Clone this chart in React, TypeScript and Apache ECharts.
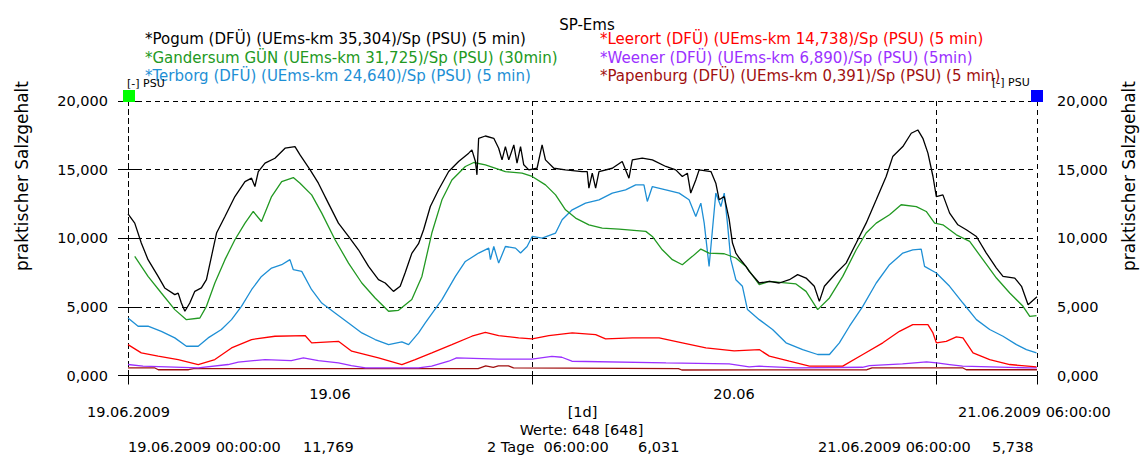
import React, { useEffect, useRef } from "react";
import * as echarts from "echarts";

// Time axis in hours since 19.06.2009 00:00, values in PSU
const seriesNames = [
  "*Pogum (DFÜ) (UEms-km 35,304)/Sp (PSU) (5 min)",
  "*Gandersum GÜN (UEms-km 31,725)/Sp (PSU) (30min)",
  "*Terborg (DFÜ) (UEms-km 24,640)/Sp (PSU) (5 min)",
  "*Leerort (DFÜ) (UEms-km 14,738)/Sp (PSU) (5 min)",
  "*Weener (DFÜ) (UEms-km 6,890)/Sp (PSU) (5min)",
  "*Papenburg (DFÜ) (UEms-km 0,391)/Sp (PSU) (5 min)",
];
const seriesColors = ["#000000", "#229922", "#1e8fd5", "#ff0000", "#9b30ff", "#a01010"];

const pogum: [number, number][] = [
  [0, 11.769], [0.4, 11.1], [0.79, 9.65], [1.19, 8.44], [1.79, 7.22], [2.18, 6.38], [2.78, 5.89], [2.98, 6.0],
  [3.17, 5.28], [3.38, 4.68], [3.67, 5.28], [3.97, 6.13], [4.36, 6.38], [4.66, 6.98], [4.96, 8.68], [5.26, 10.38],
  [5.76, 11.59], [6.35, 13.04], [6.95, 14.13], [7.34, 14.38], [7.54, 13.77], [7.74, 14.86], [8.14, 15.47],
  [8.73, 15.83], [9.33, 16.56], [9.92, 16.68], [10.22, 16.07], [10.82, 14.98], [11.31, 14.01], [11.9, 12.56],
  [12.5, 11.1], [13.1, 10.13], [13.69, 9.16], [14.29, 7.95], [14.88, 6.98], [15.28, 6.74], [15.77, 6.13],
  [16.17, 6.5], [16.47, 7.5], [16.86, 8.9], [17.26, 9.6], [17.56, 10.62], [17.96, 12.31], [18.45, 13.53],
  [19.05, 14.86], [19.64, 15.59], [20.24, 16.2], [20.43, 16.44], [20.64, 15.59], [20.73, 14.62], [20.83, 17.28],
  [21.23, 17.45], [21.73, 17.28], [22.02, 16.56], [22.22, 15.71], [22.42, 16.68], [22.62, 15.71], [22.92, 16.8],
  [23.11, 15.47], [23.32, 16.68], [23.51, 15.35], [23.81, 14.98], [24.3, 15.1], [24.6, 16.8], [24.8, 15.71],
  [25.3, 15.1], [25.99, 14.98], [26.98, 14.86], [27.28, 14.86], [27.38, 13.65], [27.58, 14.74], [27.78, 13.65],
  [27.98, 14.86], [28.77, 15.1], [29.36, 15.59], [29.76, 14.38], [29.96, 15.71], [30.55, 15.83], [31.15, 15.71],
  [31.95, 15.23], [32.54, 14.98], [32.93, 14.5], [33.23, 14.74], [33.43, 13.29], [33.73, 14.25], [33.93, 14.98],
  [34.63, 14.86], [34.92, 14.01], [35.12, 12.8], [35.42, 13.04], [35.71, 11.4], [35.91, 9.65], [36.11, 8.92],
  [36.31, 8.56], [36.71, 7.95], [36.9, 7.59], [37.5, 6.74], [38.1, 6.86], [38.69, 6.74], [39.29, 6.98],
  [39.78, 7.35], [40.28, 7.1], [40.77, 6.5], [41.07, 5.4], [41.37, 6.5], [42.07, 7.47], [42.66, 8.19],
  [43.26, 9.65], [43.85, 11.1], [44.45, 12.8], [45.04, 14.5], [45.43, 15.95], [46.03, 16.68], [46.53, 17.65],
  [46.92, 17.89], [47.22, 17.28], [47.52, 16.2], [47.82, 14.5], [48.02, 13.04], [48.41, 13.16], [48.81, 11.83],
  [49.3, 10.98], [49.8, 10.62], [50.4, 10.13], [50.99, 8.92], [51.59, 7.83], [51.98, 7.22], [52.68, 7.1],
  [53.08, 6.5], [53.47, 5.16], [54, 5.738],
];

const gandersum: [number, number][] = [
  [0.4, 8.68], [1.19, 7.22], [1.98, 6.01], [2.78, 4.8], [3.47, 4.07], [4.27, 4.19], [4.66, 5.04], [5.16, 6.74],
  [5.76, 8.44], [6.35, 9.89], [6.95, 11.1], [7.44, 11.95], [7.93, 11.22], [8.53, 13.04], [9.13, 14.13],
  [9.82, 14.42], [10.22, 14.01], [10.91, 13.16], [11.51, 11.83], [12.3, 9.89], [13.1, 8.19], [13.89, 6.74],
  [14.68, 5.65], [15.48, 4.68], [16.07, 4.75], [16.86, 5.53], [17.46, 7.22], [18.05, 10.38], [18.65, 12.8],
  [19.24, 14.25], [20.04, 15.23], [20.54, 15.52], [21.23, 15.35], [22.42, 14.86], [23.41, 14.74], [24.01, 14.5],
  [24.8, 13.89], [25.4, 13.16], [25.99, 12.07], [26.59, 11.47], [27.38, 10.98], [28.17, 10.74], [29.17, 10.67],
  [30.76, 10.5], [31.15, 10.13], [31.74, 9.16], [32.34, 8.44], [32.93, 8.07], [33.53, 8.68], [34.03, 9.21],
  [34.52, 8.92], [35.42, 8.87], [36.11, 8.56], [36.71, 7.95], [37.5, 6.62], [38.1, 6.86], [39.68, 6.67],
  [40.28, 6.13], [40.97, 4.8], [41.67, 5.65], [42.46, 7.22], [43.26, 9.16], [43.85, 10.38], [44.45, 11.1],
  [45.24, 11.71], [45.93, 12.44], [46.83, 12.31], [47.42, 11.95], [47.92, 11.1], [48.41, 10.98], [49.21, 10.25],
  [50.0, 9.77], [50.79, 8.44], [51.59, 7.1], [52.38, 6.01], [53.17, 5.04], [53.57, 4.31], [53.97, 4.36],
];

const terborg: [number, number][] = [
  [0, 4.19], [0.6, 3.59], [1.19, 3.59], [1.98, 3.22], [2.78, 2.74], [3.47, 2.13], [4.17, 2.13], [4.76, 2.74],
  [5.55, 3.35], [6.15, 4.07], [6.74, 5.04], [7.34, 6.25], [7.93, 7.22], [8.53, 7.83], [9.13, 8.07], [9.62, 8.44],
  [9.82, 7.71], [10.32, 7.59], [10.91, 6.25], [11.51, 5.28], [12.3, 4.56], [13.1, 3.83], [13.89, 3.1],
  [14.68, 2.62], [15.48, 2.25], [16.27, 2.45], [16.67, 2.25], [17.26, 3.1], [17.66, 3.83], [18.65, 5.53],
  [19.45, 7.22], [20.04, 8.31], [20.83, 8.92], [21.43, 9.28], [21.53, 8.44], [21.73, 9.4], [22.02, 8.19],
  [22.42, 9.4], [23.02, 9.28], [23.32, 8.92], [23.71, 9.4], [24.01, 10.13], [24.6, 10.01], [25.4, 10.38],
  [25.79, 11.35], [26.39, 12.07], [27.18, 12.56], [27.98, 12.8], [28.77, 13.29], [29.56, 13.53], [30.16, 13.89],
  [30.65, 13.89], [30.85, 12.68], [31.15, 13.77], [31.95, 13.53], [32.74, 13.29], [33.33, 12.8], [33.73, 11.59],
  [34.03, 12.56], [34.23, 11.1], [34.52, 7.95], [34.72, 10.62], [34.92, 13.29], [35.22, 12.31], [35.42, 13.29],
  [35.61, 11.1], [35.81, 8.44], [36.11, 6.98], [36.5, 6.5], [36.8, 4.8], [37.5, 4.07], [38.29, 3.35],
  [39.09, 2.38], [40.08, 1.89], [40.97, 1.53], [41.67, 1.53], [42.26, 2.38], [42.86, 3.59], [43.65, 5.04],
  [44.45, 6.74], [45.24, 8.07], [46.03, 8.92], [46.62, 9.16], [47.12, 9.21], [47.32, 7.95], [48.02, 7.47],
  [48.81, 6.5], [49.6, 5.28], [50.4, 4.07], [51.19, 3.35], [51.98, 2.86], [52.78, 2.25], [53.37, 1.89],
  [53.97, 1.65],
];

const leerort: [number, number][] = [
  [0, 2.25], [0.79, 1.65], [1.79, 1.41], [2.98, 1.16], [4.17, 0.8], [5.16, 1.16], [6.15, 2.01], [7.34, 2.62],
  [8.73, 2.86], [10.52, 2.91], [10.91, 2.38], [12.5, 2.49], [13.29, 1.77], [14.88, 1.28], [16.27, 0.8],
  [17.06, 1.16], [18.05, 1.65], [19.24, 2.25], [20.43, 2.86], [21.23, 3.15], [22.02, 2.91], [23.21, 2.74],
  [24.01, 2.67], [25.0, 2.91], [26.39, 3.1], [27.78, 2.98], [28.37, 2.67], [29.96, 2.74], [31.55, 2.74],
  [32.93, 2.38], [34.33, 2.01], [36.01, 1.8], [37.5, 1.89], [38.1, 1.41], [39.29, 1.04], [40.48, 0.68],
  [42.46, 0.68], [43.65, 1.53], [44.84, 2.38], [45.83, 3.22], [46.62, 3.71], [47.52, 3.71], [47.82, 3.1],
  [48.02, 2.38], [48.61, 2.49], [49.21, 2.81], [49.6, 2.74], [50.2, 1.65], [51.19, 1.16], [52.38, 0.8],
  [53.97, 0.63],
];

const weener: [number, number][] = [
  [0, 0.8], [0.89, 0.68], [4.17, 0.56], [5.95, 0.8], [6.55, 0.97], [8.14, 1.16], [9.7, 1.09], [10.42, 1.28],
  [11.31, 1.08], [12.5, 0.92], [13.27, 0.72], [14.11, 0.56], [17.26, 0.56], [18.04, 0.68], [19.05, 1.04],
  [19.52, 1.28], [22.02, 1.2], [24.0, 1.2], [25.18, 1.4], [25.77, 1.33], [26.37, 1.04], [31.96, 0.92],
  [35.71, 0.85], [36.9, 0.63], [37.5, 0.68], [39.7, 0.56], [43.63, 0.6], [44.05, 0.72], [46.01, 0.85],
  [47.44, 0.99], [48.04, 0.92], [48.81, 0.8], [49.58, 0.68], [53.57, 0.56], [54, 0.56],
];

const papenburg: [number, number][] = [
  [0, 0.55], [1.6, 0.55], [1.8, 0.42], [3.6, 0.42], [3.9, 0.5], [20.8, 0.5], [21.25, 0.7], [21.7, 0.6],
  [22.0, 0.7], [22.6, 0.7], [22.9, 0.55], [32.7, 0.5], [32.9, 0.4], [43.9, 0.42], [44.2, 0.55], [49.6, 0.55],
  [49.8, 0.42], [54, 0.42],
];

const seriesData = [pogum, gandersum, terborg, leerort, weener, papenburg];

// Day labels sit in the middle of each day
const dayLabelHours = [12, 36];
const dayLabels = ["19.06", "20.06"];

const FONT = "DejaVu Sans";
const fmt = (v: number) => v.toFixed(3).replace(".", ",");

export default function App() {
  const ref = useRef<HTMLDivElement>(null);

  useEffect(() => {
    if (!ref.current) return;
    const chart = echarts.init(ref.current, null, { renderer: "svg" });

    const first = pogum[0][1];
    const last = pogum[pogum.length - 1][1];

    const txt = (text: string, x: number, y: number, opts: any = {}) => ({
      type: "text",
      x,
      y,
      rotation: opts.rotation || 0,
      silent: true,
      style: {
        text,
        fill: opts.fill || "#000",
        fontSize: opts.fontSize || 14.5,
        fontFamily: FONT,
        fontWeight: opts.fontWeight || "normal",
        align: opts.align || "left",
        verticalAlign: "middle",
      },
    });

    const legendRows = [39, 57.5, 75.5];
    const legendTexts = seriesNames.map((n, i) =>
      txt(n, i < 3 ? 145 : 600, legendRows[i % 3], { fill: seriesColors[i], fontSize: 15 })
    );

    const dashed = { type: [5, 4], color: "#000", width: 1 };

    const yAxisBase = {
      type: "value",
      min: 0,
      max: 20,
      interval: 5,
      axisLine: { show: true, lineStyle: dashed },
      axisTick: { show: true, length: 10, lineStyle: { color: "#000" } },
      axisLabel: { formatter: fmt, margin: 20, color: "#000", fontSize: 14.5, fontFamily: FONT },
    };

    chart.setOption({
      animation: false,
      title: {
        text: "SP-Ems",
        left: 582,
        top: 12,
        textAlign: "center",
        textStyle: { fontSize: 15, fontWeight: "normal", color: "#000", fontFamily: FONT },
      },
      grid: { left: 128, right: 106, top: 101, bottom: 80.5 },
      xAxis: [
        {
          type: "value",
          min: 0,
          max: 54,
          interval: 24,
          axisLine: { show: true, onZero: false, lineStyle: { color: "#000", width: 1 } },
          axisTick: { show: true, length: 9, lineStyle: { color: "#000" } },
          axisLabel: { show: false },
          splitLine: { show: true, lineStyle: dashed },
        },
        {
          type: "value",
          min: 0,
          max: 54,
          interval: 12,
          position: "bottom",
          axisLine: { show: false },
          axisTick: { show: false },
          splitLine: { show: false },
          axisLabel: {
            margin: 11,
            color: "#000",
            fontSize: 14.5,
            fontFamily: FONT,
            formatter: (v: number) => {
              const i = dayLabelHours.indexOf(v);
              return i >= 0 ? dayLabels[i] : "";
            },
          },
        },
      ],
      yAxis: [
        { ...yAxisBase, position: "left", splitLine: { show: true, lineStyle: dashed } },
        { ...yAxisBase, position: "right", splitLine: { show: false } },
      ],
      series: seriesData.map((d, i) => ({
        name: seriesNames[i],
        type: "line",
        xAxisIndex: 0,
        yAxisIndex: 0,
        showSymbol: false,
        symbol: "none",
        data: d,
        lineStyle: { color: seriesColors[i], width: 1.3 },
        itemStyle: { color: seriesColors[i] },
        z: 10 - i,
      })),
      graphic: [
        ...legendTexts,
        { type: "rect", shape: { x: 123, y: 90, width: 12, height: 12 }, style: { fill: "#00ff00" }, z: 20 },
        { type: "rect", shape: { x: 1031, y: 90, width: 12, height: 12 }, style: { fill: "#0000ff" }, z: 20 },
        txt("[-] PSU", 127, 83, { fontSize: 11 }),
        txt("[-] PSU", 992, 82, { fontSize: 11 }),
        txt("praktischer Salzgehalt", 21.5, 176, { rotation: Math.PI / 2, align: "center", fontSize: 17 }),
        txt("praktischer Salzgehalt", 1128.5, 176, { rotation: Math.PI / 2, align: "center", fontSize: 17 }),
        txt("19.06.2009", 87, 412),
        txt("[1d]", 582.5, 412, { align: "center" }),
        txt("21.06.2009 06:00:00", 958, 412),
        txt("Werte: 648 [648]", 581.5, 430, { align: "center" }),
        txt("19.06.2009 00:00:00", 128, 447),
        txt(fmt(first), 303, 447),
        txt("2 Tage  06:00:00", 487, 447),
        txt(fmt(first - last), 638, 447),
        txt("21.06.2009 06:00:00", 818, 447),
        txt(fmt(last), 992, 447),
      ],
    });

    return () => chart.dispose();
  }, []);

  return (
    <div
      ref={ref}
      style={{ position: "absolute", left: 0, top: 0, width: 1143, height: 456, background: "#fff" }}
    />
  );
}
